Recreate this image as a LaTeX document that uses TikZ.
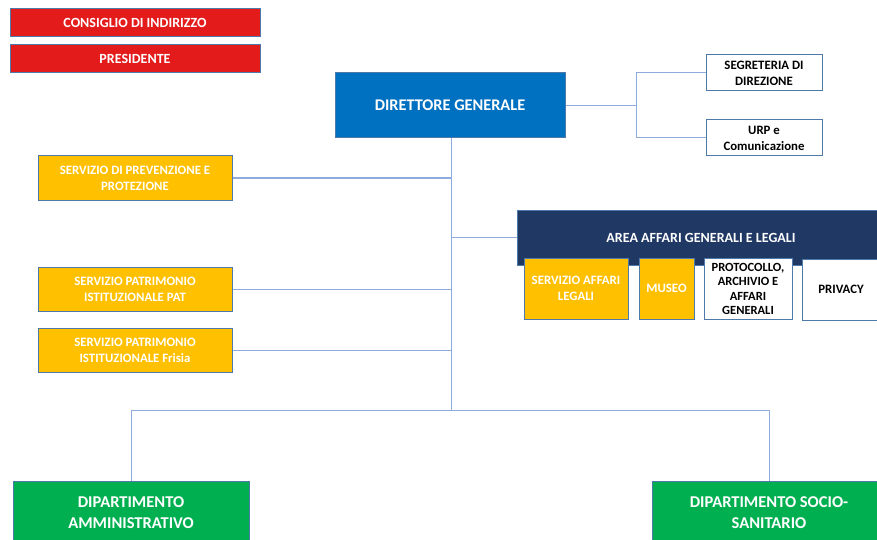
\documentclass[tikz,border=0pt]{standalone}
\usepackage{fontspec}
\setmainfont{Carlito}
\usepackage{xcolor}
\usepackage{tikz}
\usetikzlibrary{calc}
\definecolor{rosso}{HTML}{E31B1B}
\definecolor{blu}{HTML}{0070C0}
\definecolor{navy}{HTML}{203864}
\definecolor{giallo}{HTML}{FFC000}
\definecolor{verde}{HTML}{00B050}
\definecolor{bordo}{HTML}{4F79A8}
\definecolor{linea}{HTML}{8FAADC}
\tikzset{
  box/.style={
    draw=bordo,
    line width=1pt,
    text=white,
    align=center,
    inner sep=0pt,
    font=\bfseries\fontsize{12.8}{16}\selectfont},
  red/.style={box, fill=rosso, minimum width=250pt, minimum height=28pt,
    font=\bfseries\fontsize{14}{17}\selectfont},
  ora/.style={box, fill=giallo, minimum width=194pt, minimum height=44pt},
  wbox/.style={box, fill=white, text=black},
  conn/.style={draw=linea, line width=1pt}
  }
\begin{document}
\begin{tikzpicture}[x=1pt, y=-1pt]
  \clip (0,0) rectangle (877,540);
  % vertici
  \node[red] (cons) at (135,23) {CONSIGLIO DI INDIRIZZO};
  \node[red] (pres) at (135,58.5) {PRESIDENTE};
  \node[box, fill=blu, minimum width=230pt, minimum height=65pt,
        font=\bfseries\fontsize{16.3}{19}\selectfont] (dg) at (450,105.5) {DIRETTORE GENERALE};
  \node[wbox, minimum width=116pt, minimum height=36pt] (segr) at (764,73) {SEGRETERIA DI\\DIREZIONE};
  \node[wbox, minimum width=116pt, minimum height=36pt] (urp) at (764,138) {URP e\\Comunicazione};
  % servizi
  \node[ora] (spp) at (135,178) {SERVIZIO DI PREVENZIONE E\\PROTEZIONE};
  \node[ora] (pat) at (135,289.5) {SERVIZIO PATRIMONIO\\ISTITUZIONALE PAT};
  \node[ora] (fris) at (135,350.5) {SERVIZIO PATRIMONIO\\ISTITUZIONALE Frisia};
  % area affari generali
  \node[box, fill=navy, minimum width=368pt, minimum height=55pt,
        font=\bfseries\fontsize{14}{17}\selectfont] (aagl) at (701,237.5) {AREA AFFARI GENERALI E LEGALI};
  \node[box, fill=giallo, minimum width=104pt, minimum height=61pt] (legali) at (576,288.5) {SERVIZIO AFFARI\\LEGALI};
  \node[box, fill=giallo, minimum width=55pt, minimum height=61pt] (museo) at (666.5,288.5) {MUSEO};
  \node[wbox, minimum width=88pt, minimum height=61pt,
        font=\bfseries\fontsize{12.5}{14.2}\selectfont] (prot) at (748,289) {PROTOCOLLO,\\ARCHIVIO E\\AFFARI\\GENERALI};
  \node[wbox, minimum width=78pt, minimum height=61pt] (priv) at (841,289.5) {PRIVACY};
  % dipartimenti
  \node[box, fill=verde, minimum width=236pt, minimum height=64pt,
        font=\bfseries\fontsize{16.5}{21}\selectfont] (damm) at (131,513) {DIPARTIMENTO\\AMMINISTRATIVO};
  \node[box, fill=verde, minimum width=234pt, minimum height=64pt,
        font=\bfseries\fontsize{16.5}{21}\selectfont] (dss) at (769,513) {DIPARTIMENTO SOCIO-\\SANITARIO};
  \coordinate (fork) at (636,105.5);
  \coordinate (bot) at (451,410);
  \draw [conn]
    (dg.east) -- (fork)
    (fork) |- (segr.west)
    (fork) |- (urp.west)
    (dg.south -| bot) -- (bot)
    (spp.east) -- (spp.east -| bot)
    (pat.east) -- (pat.east -| bot)
    (fris.east) -- (fris.east -| bot)
    (aagl.west -| bot) -- (aagl.west)
    (bot) -| (damm.north)
    (bot) -| (dss.north);
\end{tikzpicture}
\end{document}
